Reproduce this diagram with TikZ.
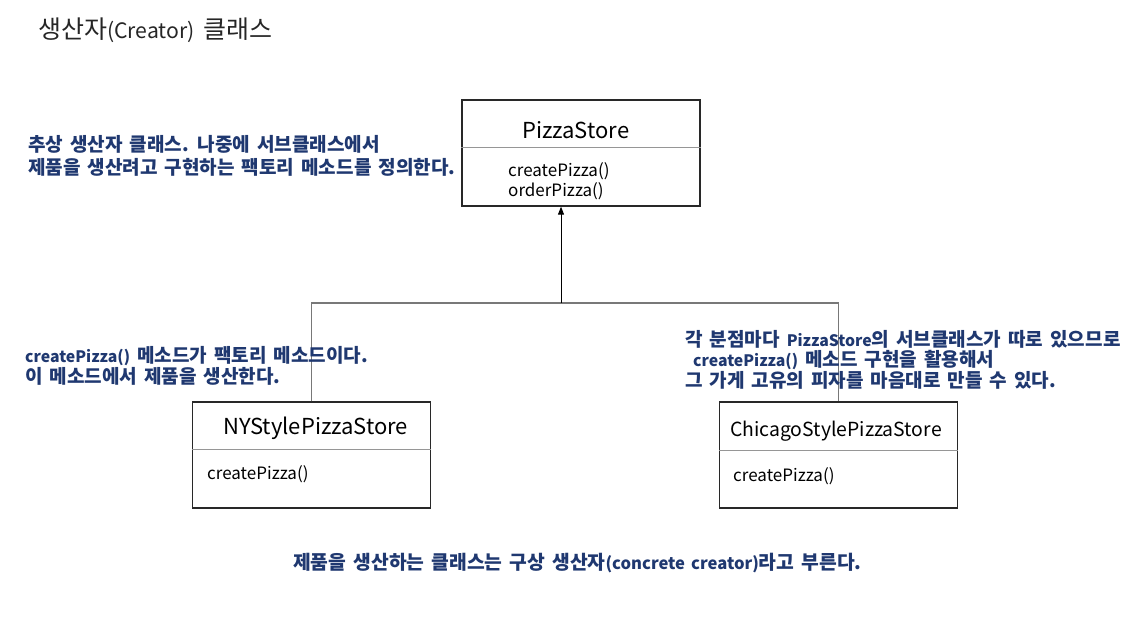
\documentclass[tikz,border=0pt]{standalone}
\usepackage{fontspec}
\setmainfont{Noto Sans CJK KR}[WordSpace=1.6]
\usetikzlibrary{arrows.meta,calc}
\definecolor{navy}{RGB}{31,56,112}
\definecolor{titlegray}{RGB}{38,38,38}
\definecolor{boxline}{RGB}{40,40,40}
\definecolor{linkgray}{RGB}{120,120,120}
\definecolor{divgray}{RGB}{150,150,150}
\newcommand\ltn[1]{{\fontsize{15.8}{20}\selectfont #1}}
\newcommand\ltb[1]{{\fontsize{16.6}{20}\selectfont #1}}
\newcommand\ltt[1]{{\fontsize{21.2}{25}\selectfont #1}}
\begin{document}
\begin{tikzpicture}[x=1pt,y=-1pt,
  umlbox/.style={draw=boxline,line width=1.3pt,minimum width=238pt,minimum height=106pt,inner sep=0pt},
  note/.style={anchor=base west,inner sep=0pt,text=navy,font=\fontsize{19.05}{23}\selectfont\bfseries},
  cname/.style={anchor=base west,inner sep=0pt,font=\fontsize{22}{26}\selectfont},
  member/.style={anchor=base west,inner sep=0pt,font=\fontsize{17}{20}\selectfont},
  link/.style={draw=linkgray,line width=1.2pt},
  arrowline/.style={draw=black,line width=1pt},
  divider/.style={draw=divgray,line width=1pt}]
\useasboundingbox (0,0) rectangle (1142,618);

% title
\node[anchor=base west,inner sep=0pt,font=\fontsize{25}{30}\selectfont,text=titlegray] (title) at (38,38) {생산자\ltt{(Creator)} 클래스};

% classes
\node[umlbox] (ps) at (581,153) {};
\node[umlbox] (ny) at (311.5,455) {};
\node[umlbox] (chi) at (838.5,455) {};

\draw[divider] ($(ps.north west)!0.453!(ps.south west)$) -- ($(ps.north east)!0.453!(ps.south east)$);
\draw[divider] ($(ny.north west)!0.453!(ny.south west)$) -- ($(ny.north east)!0.453!(ny.south east)$);
\draw[divider] ($(chi.north west)!0.46!(chi.south west)$) -- ($(chi.north east)!0.46!(chi.south east)$);

\node[cname] (psname) at (522,138) {PizzaStore};
\node[cname] (nyname) at (223,434) {NYStylePizzaStore};
\node[cname,font=\fontsize{19.4}{24}\selectfont] (chiname) at (730,436) {ChicagoStylePizzaStore};

\node[member] (psm1) at (508,176) {createPizza()};
\node[member] (psm2) at (508,196) {orderPizza()};
\node[member] (nym) at (207,479) {createPizza()};
\node[member] (chim) at (733,481) {createPizza()};

% connectors
\coordinate (j) at (561,303);
\draw[link] (ny.north) |- (j) -| (chi.north);
\draw[arrowline,-{Triangle[length=8pt,width=6pt]}] (j) -- (j |- ps.south);

% notes
\node[note] (n1a) at (28,151) {추상 생산자 클래스. 나중에 서브클래스에서};
\node[note] (n1b) at (28,174) {제품을 생산려고 구현하는 팩토리 메소드를 정의한다.};
\node[note] (n2a) at (25,362) {\ltn{createPizza()} 메소드가 팩토리 메소드이다.};
\node[note] (n2b) at (25,383) {이 메소드에서 제품을 생산한다.};
\node[note] (n3a) at (685,346) {각 분점마다 \ltn{PizzaStore}의 서브클래스가 따로 있으므로};
\node[note] (n3b) at (693,366) {\ltn{createPizza()} 메소드 구현을 활용해서};
\node[note] (n3c) at (685,387) {그 가게 고유의 피자를 마음대로 만들 수 있다.};
\node[note,font=\fontsize{19.3}{23}\selectfont\bfseries] (n4) at (293,569) {제품을 생산하는 클래스는 구상 생산자\ltb{(concrete creator)}라고 부른다.};
\end{tikzpicture}
\end{document}
